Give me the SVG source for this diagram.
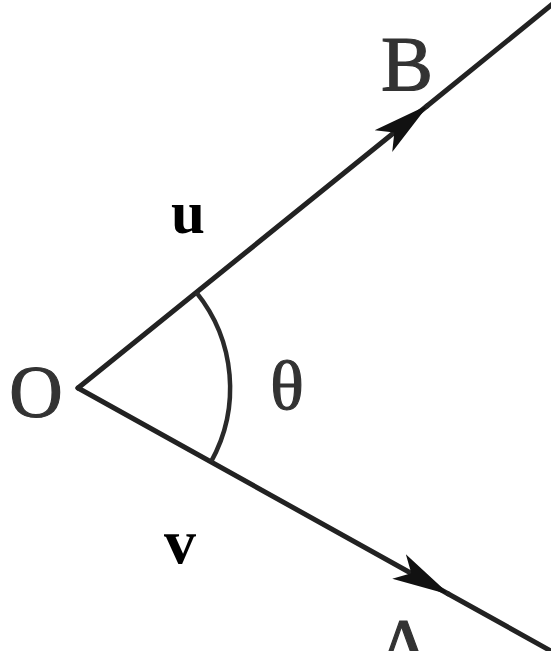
<svg xmlns="http://www.w3.org/2000/svg" width="551" height="651" viewBox="0 0 551 651">
  <style>
    .ln { stroke: #222; stroke-width: 5; fill: none; stroke-linecap: round; }
    .arc { stroke: #2a2a2a; stroke-width: 4.5; fill: none; }
    .pt { font-family: "Liberation Serif", "Times New Roman", serif; fill: #333; stroke: #333; stroke-width: 1.2; text-anchor: middle; }
    .vec { font-family: "Liberation Serif", "Times New Roman", serif; font-weight: bold; fill: #000; text-anchor: middle; }
  </style>
  <defs>
    <marker id="arrow" markerUnits="userSpaceOnUse" viewBox="0 0 58 32" refX="56" refY="16" markerWidth="58" markerHeight="32" orient="auto">
      <path d="M0,2 L58,16 L0,30 L14,16 Z" fill="#111"/>
    </marker>
  </defs>
  <rect width="551" height="651" fill="#fff"/>
  <g id="connectors">
    <line id="OB" class="ln" x1="78" y1="388" x2="427" y2="106" marker-end="url(#arrow)"/>
    <line class="ln" x1="427" y1="106" x2="560" y2="-2"/>
    <line id="OA" class="ln" x1="78" y1="388" x2="448" y2="593.7" marker-end="url(#arrow)"/>
    <line class="ln" x1="448" y1="593.7" x2="560" y2="656"/>
    <path id="angle-arc" class="arc" d="M196.3,292.4 A152,152 0 0 1 211,461.8"/>
  </g>
  <g id="node-O"><text class="pt" x="36" y="417" font-size="74">O</text></g>
  <g id="node-B"><text class="pt" x="407" y="90" font-size="78">B</text></g>
  <g id="node-A"><text class="pt" x="404" y="672" font-size="78">A</text></g>
  <g id="label-theta"><text class="pt" x="287" y="409" font-size="70">θ</text></g>
  <g id="label-u"><text class="vec" x="188" y="233" font-size="61">u</text></g>
  <g id="label-v"><text class="vec" x="180" y="563" font-size="64">v</text></g>
</svg>
